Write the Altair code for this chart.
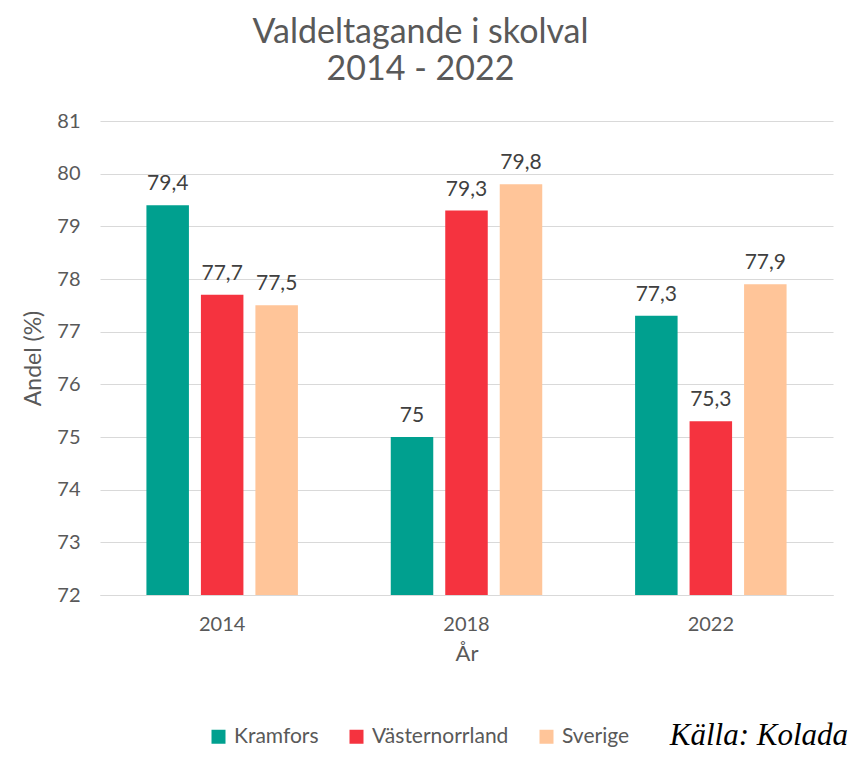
import altair as alt
import pandas as pd

years = ["2014", "2018", "2022"]
regions = ["Kramfors", "Västernorrland", "Sverige"]
kramfors = [79.4, 75.0, 77.3]
vasternorrland = [77.7, 79.3, 75.3]
sverige = [77.5, 79.8, 77.9]
colors = ["#00A08F", "#F5333F", "#FFC599"]
source_text = ["Källa: Kolada"]

def fmt(v):
    s = f"{v:.1f}"
    if s.endswith(".0"):
        s = s[:-2]
    return s.replace(".", ",")

rows = []
for series, name in zip([kramfors, vasternorrland, sverige], regions):
    for y, v in zip(years, series):
        rows.append({"År": y, "Region": name, "Andel": v, "Label": fmt(v), "Base": 72})
df = pd.DataFrame(rows)

FONT = "Lato"
GRAY = "#595959"

x_enc = alt.X("År:N", sort=years,
              scale=alt.Scale(paddingInner=0.38, paddingOuter=0.19),
              axis=alt.Axis(title="År", labelAngle=0, labelFontSize=20, labelColor=GRAY,
                            labelFont=FONT, titleFont=FONT, titleFontSize=22,
                            titleColor=GRAY, titleFontWeight="normal", ticks=False,
                            grid=False, domainColor="#D9D9D9", labelPadding=19,
                            titlePadding=9))
xoff = alt.XOffset("Region:N", sort=regions,
                   scale=alt.Scale(domain=regions, paddingInner=0.22, paddingOuter=0))
y_enc = alt.Y("Andel:Q",
              scale=alt.Scale(domain=[72, 81], zero=False, nice=False),
              axis=alt.Axis(title="Andel (%)", values=list(range(72, 82)), labelFontSize=20,
                            labelColor=GRAY, labelFont=FONT, titleFont=FONT, titleFontSize=23,
                            titleColor=GRAY, titleFontWeight="normal", ticks=False,
                            domain=False, gridColor="#D9D9D9", labelPadding=20,
                            titlePadding=11))

bars = alt.Chart(df).mark_bar().encode(
    x=x_enc,
    xOffset=xoff,
    y=y_enc,
    y2="Base:Q",
    color=alt.Color("Region:N", sort=regions,
                    scale=alt.Scale(domain=regions, range=colors),
                    legend=alt.Legend(title=None, orient="none", direction="horizontal",
                                      legendX=108, legendY=605, labelFontSize=21,
                                      labelFont=FONT, labelColor=GRAY, symbolType="square",
                                      symbolSize=196, symbolStrokeWidth=0,
                                      columnPadding=27, labelOffset=5)),
)

labels = alt.Chart(df).mark_text(baseline="bottom", dy=-11, fontSize=21, font=FONT,
                                 color="#404040").encode(
    x=alt.X("År:N", sort=years),
    xOffset=alt.XOffset("Region:N", sort=regions),
    y=alt.Y("Andel:Q"),
    text="Label:N",
)

source = alt.Chart(pd.DataFrame({"t": source_text})).mark_text(
    align="right", baseline="alphabetic", fontSize=31, font="Liberation Serif",
    fontStyle="italic", color="#000000"
).encode(x=alt.value(748), y=alt.value(624), text="t:N")

chart = alt.layer(bars, labels, source).properties(
    width=733, height=474,
    background="white",
    title=alt.TitleParams(["Valdeltagande i skolval", "2014 - 2022"], fontSize=34,
                          font=FONT, color=GRAY, fontWeight="normal", anchor="middle",
                          dx=-46, offset=24, lineHeight=37),
    autosize=alt.AutoSizeParams(type="none"),
    padding={"left": 92, "top": 113, "right": 25, "bottom": 157},
).configure_view(strokeWidth=0, stroke="transparent").configure_axisX(grid=False)

chart.save("out.html", embed_options={"renderer": "svg", "actions": False})
